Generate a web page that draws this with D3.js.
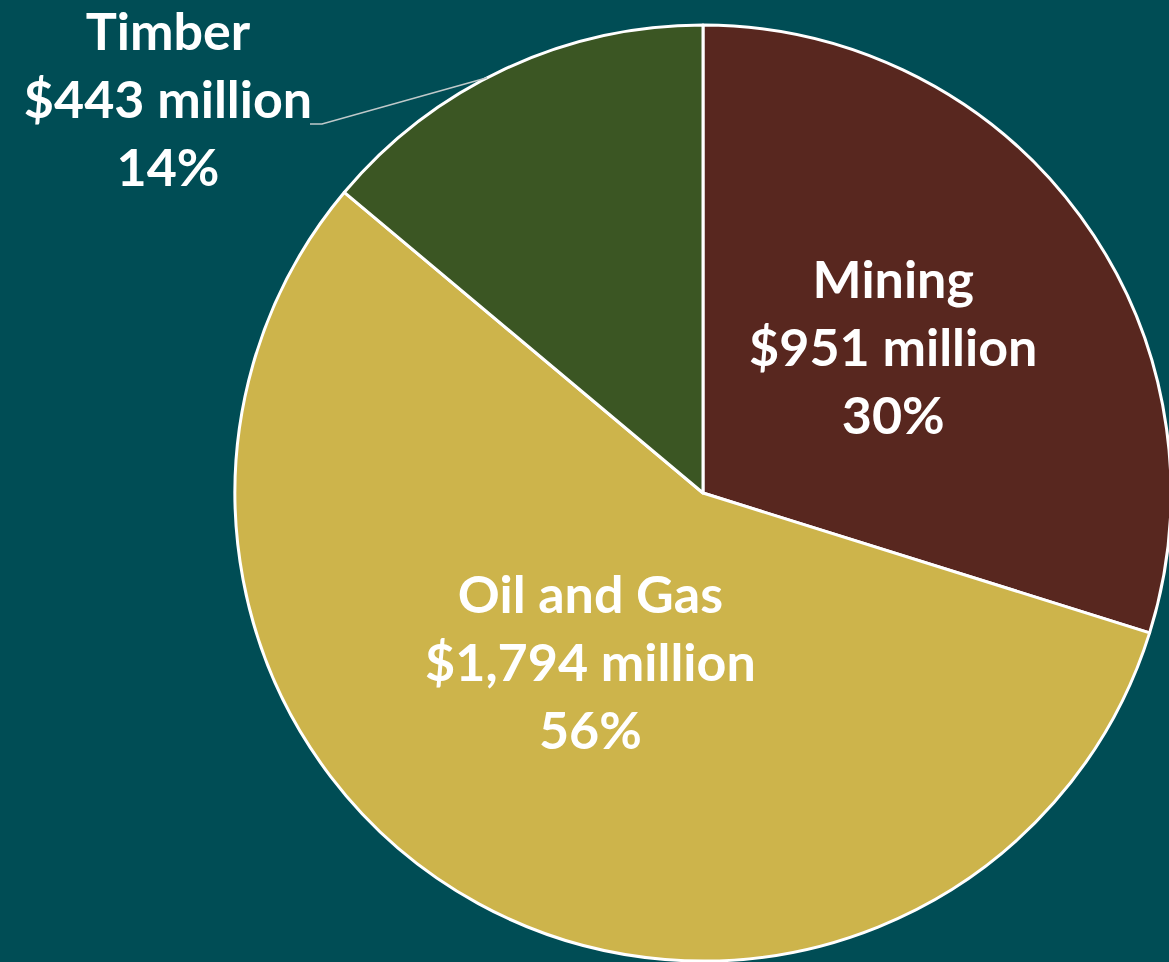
<!DOCTYPE html>
<html>
<head>
<meta charset="utf-8">
<script src="https://cdn.jsdelivr.net/npm/d3@7"></script>
<style>
  html, body { margin: 0; padding: 0; background: #004D55; }
  svg { display: block; }
  text { font-family: Lato, "Open Sans", sans-serif; font-weight: bold; fill: #fff; }
</style>
</head>
<body>
<svg width="1169" height="962"></svg>
<script>
// sector revenue, millions of dollars
var sectors = ["Mining", "Oil and Gas", "Timber"];
var amounts = [951, 1794, 443];
var amountLabels = ["$951 million", "$1,794 million", "$443 million"];
var percents = ["30%", "56%", "14%"];
var colors = ["#58271F", "#CDB44B", "#3B5623"];

var svg = d3.select("svg"),
  cx = 703,
  cy = 493,
  radius = 468;

var data = sectors.map(function(s, i) {
  return { name: s, value: amounts[i], amount: amountLabels[i], pct: percents[i], color: colors[i] };
});

var pie = d3.pie()
  .sort(null)
  .value(function(d) { return d.value; });

var arc = d3.arc().innerRadius(0).outerRadius(radius);
var labelArc = d3.arc().innerRadius(radius * 0.47).outerRadius(radius * 0.47);

var g = svg.append("g").attr("transform", "translate(" + cx + "," + cy + ")");

var arcs = pie(data);

g.selectAll("path")
  .data(arcs)
  .enter().append("path")
  .attr("d", arc)
  .attr("fill", function(d) { return d.data.color; })
  .attr("stroke", "#fff")
  .attr("stroke-width", 3)
  .attr("stroke-linejoin", "round");

// label nudges (inside labels) and outside placement for the small slice
var nudge = { "Mining": [13, -15], "Oil and Gas": [-7, -23] };
var lineH = 68;

function labelPos(d) {
  if (d.data.name == "Timber") return [168 - cx, 100 - cy];
  var c = labelArc.centroid(d), n = nudge[d.data.name];
  return [c[0] + n[0], c[1] + n[1]];
}

// leader line for Timber, ends on the slice edge
var tArc = arcs[2];
var a = (tArc.startAngle + tArc.endAngle) / 2 - 0.043;
var edge = [Math.sin(a) * radius, -Math.cos(a) * radius];
g.append("polyline")
  .attr("points", [[310 - cx, 124 - cy], [322 - cx, 124 - cy], edge].map(function(p) { return p.join(","); }).join(" "))
  .attr("fill", "none")
  .attr("stroke", "#BFC9CA")
  .attr("stroke-width", 1.6);

var labels = g.selectAll("g.label")
  .data(arcs)
  .enter().append("g")
  .attr("class", "label")
  .attr("transform", function(d) { return "translate(" + labelPos(d) + ")"; });

labels.each(function(d) {
  var lines = [d.data.name, d.data.amount, d.data.pct];
  d3.select(this).selectAll("text")
    .data(lines)
    .enter().append("text")
    .attr("text-anchor", "middle")
    .attr("y", function(t, i) { return (i - 1) * lineH + 18; })
    .attr("font-size", "52px")
    .text(function(t) { return t; });
});
</script>
</body>
</html>
